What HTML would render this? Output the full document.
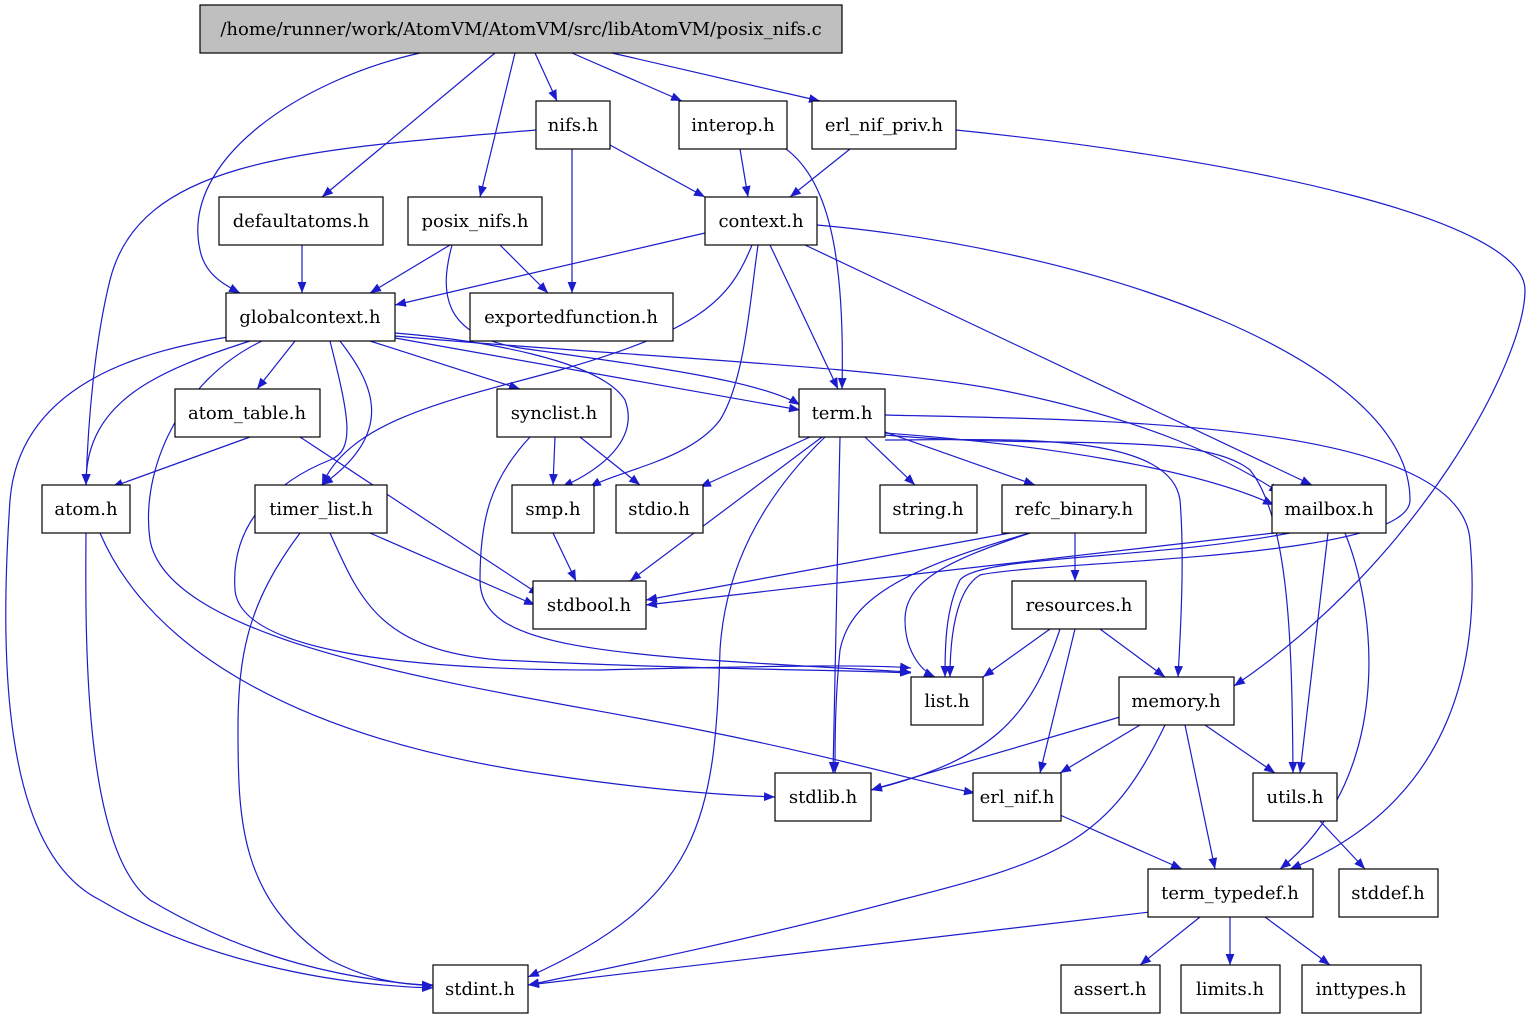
<!DOCTYPE html>
<html><head><meta charset="utf-8"><style>
html,body{margin:0;padding:0;background:#fff;}
svg text{font-family:"DejaVu Serif",serif;font-size:18px;text-anchor:middle;}
</style></head><body>
<svg width="1531" height="1019" viewBox="0 0 1531 1019" xmlns="http://www.w3.org/2000/svg">
<defs><marker id="a" viewBox="0 0 10 10" refX="10" refY="5" markerWidth="11" markerHeight="11" orient="auto" markerUnits="userSpaceOnUse"><path d="M0,1 L10,5 L0,9 z" fill="#1c1ccc"/></marker></defs>
<g fill="none" stroke="#1c1ccc" stroke-width="1.2" marker-end="url(#a)">
<path d="M420,53 C300,80 180,160 200,250 C205,275 225,285 240,293"/>
<path d="M495,53 L322,197"/>
<path d="M515,53 L480,197"/>
<path d="M535,53 L557,101"/>
<path d="M572,53 L682,101"/>
<path d="M612,53 L820,101"/>
<path d="M536,130 C300,150 140,160 110,280 C95,340 88,420 86,485"/>
<path d="M610,145 L705,197"/>
<path d="M572,149 L572,293"/>
<path d="M740,149 L748,197"/>
<path d="M780,145 C830,175 845,260 842,389"/>
<path d="M850,149 L790,197"/>
<path d="M956,130 C1250,160 1525,220 1525,290 C1525,360 1420,560 1234,686"/>
<path d="M302,245 L302,293"/>
<path d="M450,245 L370,293"/>
<path d="M500,245 L548,293"/>
<path d="M452,245 C440,290 440,335 520,348 C640,365 760,380 800,405"/>
<path d="M705,233 L395,305"/>
<path d="M770,245 L838,389"/>
<path d="M805,245 L1312,485"/>
<path d="M817,225 C1100,250 1410,360 1410,500 C1410,560 1050,560 980,575 C955,590 950,640 950,677"/>
<path d="M752,245 C730,300 700,330 560,370 C450,400 350,420 322,485"/>
<path d="M758,245 C750,300 745,380 720,420 C690,460 620,470 590,487"/>
<path d="M295,341 L257,389"/>
<path d="M370,341 L520,389"/>
<path d="M395,338 L800,410"/>
<path d="M250,341 C160,370 85,400 86,485"/>
<path d="M228,337 C150,350 20,380 10,500 C0,650 0,850 100,900 C200,960 330,985 433,988"/>
<path d="M262,341 C180,380 140,470 150,540 C170,650 500,690 700,730 C850,760 930,785 975,793"/>
<path d="M340,341 C370,380 400,430 322,485"/>
<path d="M330,341 C350,420 355,450 330,460 C280,480 230,520 235,590 C240,650 400,670 600,670 C800,665 880,665 911,668"/>
<path d="M395,333 C480,340 600,360 625,400 C640,440 600,470 562,487"/>
<path d="M395,336 C600,355 870,365 1000,390 C1150,420 1230,460 1280,493"/>
<path d="M250,437 L112,487"/>
<path d="M300,437 L540,595"/>
<path d="M555,437 L553,485"/>
<path d="M580,437 L640,485"/>
<path d="M530,437 C490,480 480,520 480,580 C480,650 600,655 911,672"/>
<path d="M810,437 L700,487"/>
<path d="M865,437 L915,485"/>
<path d="M885,432 L1035,485"/>
<path d="M822,437 L630,581"/>
<path d="M825,437 C760,500 725,570 720,650 C715,820 700,900 528,977"/>
<path d="M840,437 L833,773"/>
<path d="M885,440 C1000,440 1170,430 1180,500 C1185,560 1180,640 1178,677"/>
<path d="M885,435 C1050,450 1200,430 1250,470 C1290,520 1292,650 1293,773"/>
<path d="M885,433 C1050,445 1200,470 1274,505"/>
<path d="M885,415 C1100,420 1460,420 1470,540 C1480,650 1460,800 1290,869"/>
<path d="M1010,533 L646,600"/>
<path d="M1030,533 C950,560 905,580 905,620 C905,650 920,670 935,677"/>
<path d="M1030,533 C900,570 850,600 840,650 C835,700 835,740 835,773"/>
<path d="M1075,533 L1075,581"/>
<path d="M1274,533 L646,605"/>
<path d="M1290,533 C1150,560 980,555 960,580 C945,610 945,650 945,677"/>
<path d="M1328,533 L1300,773"/>
<path d="M1345,533 C1380,620 1390,780 1280,869"/>
<path d="M86,533 C85,650 85,850 150,900 C250,960 350,980 433,986"/>
<path d="M100,533 C150,650 300,740 550,775 C650,790 720,795 775,797"/>
<path d="M370,533 L535,605"/>
<path d="M300,533 C250,600 238,650 238,730 C238,820 240,900 330,960 C370,980 400,985 433,985"/>
<path d="M330,533 C360,600 380,650 500,660 C700,670 860,670 911,673"/>
<path d="M553,533 L576,581"/>
<path d="M1050,629 L983,677"/>
<path d="M1100,629 L1165,677"/>
<path d="M1075,629 L1040,773"/>
<path d="M1060,629 C1030,720 990,760 871,790"/>
<path d="M1120,717 L871,790"/>
<path d="M1140,725 L1060,773"/>
<path d="M1205,725 L1275,773"/>
<path d="M1185,725 L1215,869"/>
<path d="M1165,725 C1110,840 1060,860 900,900 C750,940 600,970 528,985"/>
<path d="M1060,815 L1182,869"/>
<path d="M1320,821 L1365,869"/>
<path d="M1150,912 L528,985"/>
<path d="M1200,917 L1140,965"/>
<path d="M1230,917 L1230,965"/>
<path d="M1265,917 L1330,965"/>
</g>
<g stroke="#000" stroke-width="1.2" fill="#fff">
<rect x="200" y="5" width="642" height="48" fill="#bfbfbf"/>
<rect x="536" y="101" width="74" height="48"/>
<rect x="679" y="101" width="108" height="48"/>
<rect x="812" y="101" width="144" height="48"/>
<rect x="219" y="197" width="164" height="48"/>
<rect x="408" y="197" width="134" height="48"/>
<rect x="705" y="197" width="112" height="48"/>
<rect x="226" y="293" width="169" height="48"/>
<rect x="470" y="293" width="203" height="48"/>
<rect x="175" y="389" width="145" height="48"/>
<rect x="497" y="389" width="114" height="48"/>
<rect x="799" y="389" width="86" height="48"/>
<rect x="42" y="485" width="88" height="48"/>
<rect x="255" y="485" width="132" height="48"/>
<rect x="512" y="485" width="82" height="48"/>
<rect x="616" y="485" width="87" height="48"/>
<rect x="880" y="485" width="97" height="48"/>
<rect x="1002" y="485" width="144" height="48"/>
<rect x="1272" y="485" width="114" height="48"/>
<rect x="533" y="581" width="113" height="48"/>
<rect x="1012" y="581" width="134" height="48"/>
<rect x="911" y="677" width="72" height="48"/>
<rect x="1119" y="677" width="115" height="48"/>
<rect x="775" y="773" width="96" height="48"/>
<rect x="973" y="773" width="88" height="48"/>
<rect x="1253" y="773" width="84" height="48"/>
<rect x="1148" y="869" width="165" height="48"/>
<rect x="1339" y="869" width="99" height="48"/>
<rect x="433" y="965" width="95" height="48"/>
<rect x="1061" y="965" width="99" height="48"/>
<rect x="1181" y="965" width="99" height="48"/>
<rect x="1302" y="965" width="119" height="48"/>
</g>
<g fill="#000">
<text x="521" y="35">/home/runner/work/AtomVM/AtomVM/src/libAtomVM/posix_nifs.c</text>
<text x="573" y="131">nifs.h</text>
<text x="733" y="131">interop.h</text>
<text x="884" y="131">erl_nif_priv.h</text>
<text x="301" y="227">defaultatoms.h</text>
<text x="475" y="227">posix_nifs.h</text>
<text x="761" y="227">context.h</text>
<text x="310" y="323">globalcontext.h</text>
<text x="571" y="323">exportedfunction.h</text>
<text x="247" y="419">atom_table.h</text>
<text x="554" y="419">synclist.h</text>
<text x="842" y="419">term.h</text>
<text x="86" y="515">atom.h</text>
<text x="321" y="515">timer_list.h</text>
<text x="553" y="515">smp.h</text>
<text x="659" y="515">stdio.h</text>
<text x="928" y="515">string.h</text>
<text x="1074" y="515">refc_binary.h</text>
<text x="1329" y="515">mailbox.h</text>
<text x="589" y="611">stdbool.h</text>
<text x="1079" y="611">resources.h</text>
<text x="947" y="707">list.h</text>
<text x="1176" y="707">memory.h</text>
<text x="823" y="803">stdlib.h</text>
<text x="1017" y="803">erl_nif.h</text>
<text x="1295" y="803">utils.h</text>
<text x="1230" y="899">term_typedef.h</text>
<text x="1388" y="899">stddef.h</text>
<text x="480" y="995">stdint.h</text>
<text x="1110" y="995">assert.h</text>
<text x="1230" y="995">limits.h</text>
<text x="1361" y="995">inttypes.h</text>
</g>
</svg>
</body></html>
